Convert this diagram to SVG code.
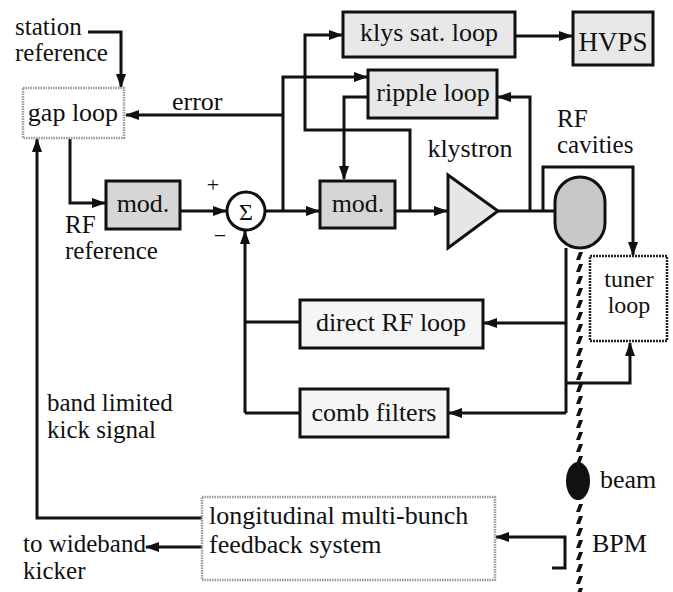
<svg xmlns="http://www.w3.org/2000/svg" width="673" height="592" viewBox="0 0 673 592" font-family="'Liberation Serif', 'DejaVu Serif', serif">
<style>
text{font-family:'Liberation Serif','DejaVu Serif',serif;font-size:26px;fill:#111}
text.two{font-size:25px}
.mid{text-anchor:middle}
.box{stroke:#111;stroke-width:3}
.shade{fill:#d6d6d6}
.light{fill:#e8e8e8}
.pale{fill:#f5f5f5}
.dot{fill:#fff;stroke:#999;stroke-width:2.5;stroke-dasharray:1.5 1}
.dotdark{fill:#fff;stroke:#222;stroke-width:2.5;stroke-dasharray:2 1}
#connectors path{fill:none;stroke:#111;stroke-width:3}
.arr{marker-end:url(#ah)}
</style>
<defs>
<marker id="ah" markerWidth="14" markerHeight="10" refX="13" refY="5" orient="auto" markerUnits="userSpaceOnUse">
<path d="M0,0 L14,5 L0,10 z" fill="#111"/>
</marker>
<pattern id="hatch" patternUnits="userSpaceOnUse" x="574" y="0" width="10" height="12">
<polygon points="5,0 9,0 6,8 2,8" fill="#111"/>
</pattern>
</defs>
<rect width="673" height="592" fill="#fff"/>

<g id="beampipe">
<rect x="574" y="250" width="10" height="342" fill="url(#hatch)"/>
</g>

<g id="connectors">
<path class="arr" d="M88,32 H121 V87"/>
<path class="arr" d="M283,115 H126"/>
<path class="arr" d="M283,211 V77 H367"/>
<path class="arr" d="M70,139 V203 H105"/>
<path class="arr" d="M180,211 H226"/>
<path class="arr" d="M265,211 H319"/>
<path class="arr" d="M410,211 V130 H305 V35 H342"/>
<path class="arr" d="M368,97 H344 V179"/>
<path class="arr" d="M395,211 H447"/>
<path d="M498,211 H556"/>
<path class="arr" d="M530,211 V97 H498"/>
<path class="arr" d="M543,211 V167 H633 V255"/>
<path class="arr" d="M515,36 H572"/>
<path d="M566,248 V413"/>
<path class="arr" d="M566,323 H484"/>
<path class="arr" d="M566,383 H630 V343"/>
<path class="arr" d="M566,413 H449"/>
<path class="arr" d="M245,413 V231"/>
<path d="M245,322 H300 M245,413 H300"/>
<path class="arr" d="M202,518 H37 V139"/>
<path class="arr" d="M202,547 H146"/>
<path class="arr" d="M552,568 H565 V537 H496"/>
</g>

<g id="station-ref">
<text class="two" x="15" y="35">station</text>
<text class="two" x="15" y="61">reference</text>
</g>

<g id="gap-loop">
<rect class="dot" x="23" y="88" width="101" height="50"/>
<text x="73" y="121" class="mid">gap loop</text>
</g>
<text x="172" y="110">error</text>

<g id="mod1">
<rect class="box shade" x="106" y="181" width="74" height="48"/>
<text x="143" y="212" class="mid">mod.</text>
</g>
<g id="rf-ref">
<text class="two" x="65" y="233">RF</text>
<text class="two" x="65" y="259">reference</text>
</g>

<g id="sum">
<circle cx="246" cy="211" r="19" fill="#fff" stroke="#111" stroke-width="3"/>
<text x="246" y="220" class="mid" style="font-size:24px">Σ</text>
<text x="213" y="192" class="mid" style="font-size:22px">+</text>
<text x="220" y="243" class="mid" style="font-size:22px">−</text>
</g>

<g id="mod2">
<rect class="box shade" x="320" y="181" width="75" height="47"/>
<text x="358" y="212" class="mid">mod.</text>
</g>

<g id="klys-sat-loop">
<rect class="box light" x="343" y="12" width="172" height="45"/>
<text x="429" y="41" class="mid">klys sat. loop</text>
</g>

<g id="hvps">
<rect class="box light" x="573" y="12" width="80" height="53"/>
<text x="613" y="51" class="mid" style="font-size:27px">HVPS</text>
</g>

<g id="ripple-loop">
<rect class="box light" x="368" y="70" width="129" height="48"/>
<text x="433" y="101" class="mid">ripple loop</text>
</g>

<g id="klystron">
<polygon points="448,175 498,211 448,248" fill="#e6e6e6" stroke="#111" stroke-width="3"/>
<text x="470" y="157" class="mid">klystron</text>
</g>

<g id="rf-cavities">
<rect x="555" y="177" width="50" height="71" rx="25" ry="25" fill="#c8c8c8" stroke="#111" stroke-width="3"/>
<text class="two" x="557" y="127">RF</text>
<text class="two" x="557" y="153">cavities</text>
</g>

<g id="tuner-loop">
<rect class="dotdark" x="590" y="256" width="77" height="85"/>
<text x="629" y="287" class="mid" style="font-size:24px">tuner</text>
<text x="629" y="313" class="mid" style="font-size:24px">loop</text>
</g>

<g id="direct-rf-loop">
<rect class="box pale" x="300" y="300" width="183" height="48"/>
<text x="391" y="331" class="mid">direct RF loop</text>
</g>

<g id="comb-filters">
<rect class="box pale" x="300" y="389" width="148" height="48"/>
<text x="374" y="421" class="mid">comb filters</text>
</g>

<g id="beam">
<ellipse cx="578" cy="481" rx="12" ry="19" fill="#111"/>
<text x="600" y="488">beam</text>
</g>
<text x="592" y="552">BPM</text>

<g id="band-limited">
<text class="two" x="47" y="411">band limited</text>
<text class="two" x="47" y="438">kick signal</text>
</g>

<g id="lmb-feedback">
<rect class="dot" x="202" y="497" width="293" height="83"/>
<text x="209" y="524">longitudinal multi-bunch</text>
<text x="209" y="553">feedback system</text>
</g>

<g id="wideband">
<text class="two" x="23" y="552">to wideband</text>
<text class="two" x="23" y="579">kicker</text>
</g>
</svg>
